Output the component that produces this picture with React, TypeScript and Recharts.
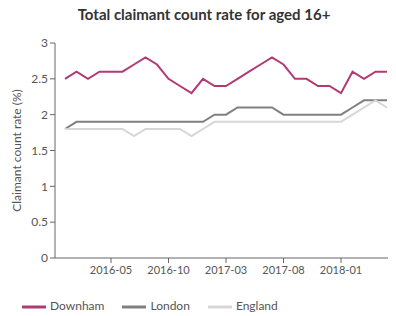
import { Legend, Line, LineChart, XAxis, YAxis } from "recharts";

const months = [
  "2016-01", "2016-02", "2016-03", "2016-04", "2016-05", "2016-06", "2016-07", "2016-08", "2016-09", "2016-10", "2016-11", "2016-12",
  "2017-01", "2017-02", "2017-03", "2017-04", "2017-05", "2017-06", "2017-07", "2017-08", "2017-09", "2017-10", "2017-11", "2017-12",
  "2018-01", "2018-02", "2018-03", "2018-04", "2018-05",
];

const downham = [
  2.5, 2.6, 2.5, 2.6, 2.6, 2.6, 2.7, 2.8, 2.7, 2.5, 2.4, 2.3,
  2.5, 2.4, 2.4, 2.5, 2.6, 2.7, 2.8, 2.7, 2.5, 2.5, 2.4, 2.4,
  2.3, 2.6, 2.5, 2.6, 2.6,
];

const london = [
  1.8, 1.9, 1.9, 1.9, 1.9, 1.9, 1.9, 1.9, 1.9, 1.9, 1.9, 1.9,
  1.9, 2.0, 2.0, 2.1, 2.1, 2.1, 2.1, 2.0, 2.0, 2.0, 2.0, 2.0,
  2.0, 2.1, 2.2, 2.2, 2.2,
];

const england = [
  1.8, 1.8, 1.8, 1.8, 1.8, 1.8, 1.7, 1.8, 1.8, 1.8, 1.8, 1.7,
  1.8, 1.9, 1.9, 1.9, 1.9, 1.9, 1.9, 1.9, 1.9, 1.9, 1.9, 1.9,
  1.9, 2.0, 2.1, 2.2, 2.1,
];

const seriesOrder = ["Downham", "London", "England"];
const xTicks = ["2016-05", "2016-10", "2017-03", "2017-08", "2018-01"];
const yTicks = [0, 0.5, 1, 1.5, 2, 2.5, 3];

const data = months.map((m, i) => ({
  month: m,
  Downham: downham[i],
  London: london[i],
  England: england[i],
}));

const font = "Lato, 'Open Sans', sans-serif";
const tickStyle = { fill: "#555", fontSize: 11, fontFamily: font };

export default function App() {
  return (
    <div style={{ position: "relative", width: 396, height: 316, margin: "-8px 0 0 -8px", background: "#fff" }}>
      <div
        style={{
          position: "absolute",
          top: 5,
          left: 0,
          width: 408,
          textAlign: "center",
          fontFamily: font,
          fontWeight: 700,
          fontSize: 15,
          color: "#333",
          zIndex: 1,
        }}
      >
        Total claimant count rate for aged 16+
      </div>
      <LineChart width={396} height={316} data={data} margin={{ top: 43, right: 0, left: 0, bottom: 4 }}>
        <XAxis
          dataKey="month"
          ticks={xTicks}
          interval={0}
          padding={{ left: 10, right: 9 }}
          stroke="#666"
          tickSize={5}
          tickMargin={3}
          tick={tickStyle}
          height={28}
        />
        <YAxis
          domain={[0, 3]}
          ticks={yTicks}
          width={55}
          stroke="#666"
          tickSize={5}
          tickMargin={2}
          tick={{ ...tickStyle, fontSize: 12 }}
          label={{
            value: "Claimant count rate (%)",
            angle: -90,
            position: "insideLeft",
            offset: 17,
            style: { fill: "#555", fontSize: 12, fontFamily: font, textAnchor: "middle" },
          }}
        />
        <Legend
          iconType="plainline"
          iconSize={24}
          height={26}
          align="left"
          itemSorter={(item: any) => seriesOrder.indexOf(item.value)}
          wrapperStyle={{ fontFamily: font, fontSize: 12, top: 295, left: 22, paddingLeft: 0, lineHeight: "20px" }}
          formatter={(v) => <span style={{ color: "#555", marginLeft: 0, marginRight: 8 }}>{v}</span>}
        />
        <Line type="linear" dataKey="Downham" stroke="#b23a74" strokeWidth={2} dot={false} isAnimationActive={false} />
        <Line type="linear" dataKey="London" stroke="#808080" strokeWidth={2} dot={false} isAnimationActive={false} />
        <Line type="linear" dataKey="England" stroke="#d6d6d6" strokeWidth={2} dot={false} isAnimationActive={false} />
      </LineChart>
    </div>
  );
}
